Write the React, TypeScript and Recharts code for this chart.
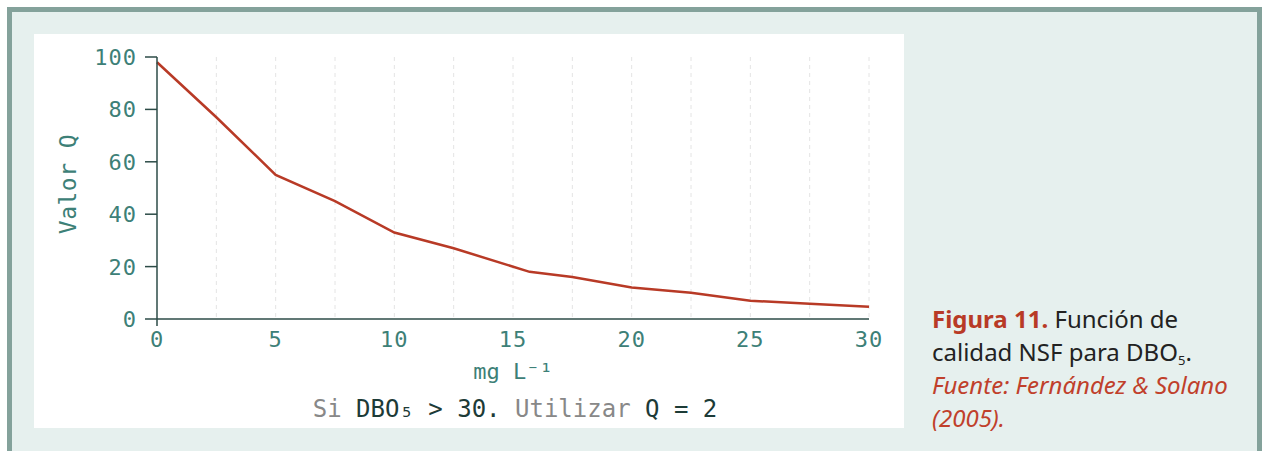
import React from 'react';
import { LineChart, Line, XAxis, YAxis, CartesianGrid, Label } from 'recharts';

const dbo = [0, 2.5, 5, 7.5, 10, 12.5, 15.7, 17.5, 20, 22.5, 25, 27.5, 30];
const valorQ = [98, 77, 55, 45, 33, 27, 18, 16, 12, 10, 7, 5.8, 4.7];
const xTicks = [0, 5, 10, 15, 20, 25, 30];
const yTicks = [0, 20, 40, 60, 80, 100];
const gridX = [2.5, 5, 7.5, 10, 12.5, 15, 17.5, 20, 22.5, 25, 27.5, 30];

const data = dbo.map((x, i) => ({ x, q: valorQ[i] }));

const MONO = '"DejaVu Sans Mono", monospace';
const TEAL = '#3d8077';
const DARK = '#2c4b47';
const RED = '#b83a26';

const XTick = (props: any) => {
  const { x, y, payload } = props;
  return (
    <g>
      {payload.value === 0 && <line x1={x} x2={x} y1={y} y2={y + 7} stroke={DARK} strokeWidth={1.5} />}
      <text x={x} y={y + 28} textAnchor="middle" fill={TEAL} fontFamily={MONO} fontSize={22} letterSpacing={1}>
        {payload.value}
      </text>
    </g>
  );
};

const YTick = (props: any) => {
  const { x, y, payload } = props;
  return (
    <text x={x} y={y + 8} textAnchor="end" fill={TEAL} fontFamily={MONO} fontSize={22} letterSpacing={1}>
      {payload.value}
    </text>
  );
};

const App: React.FC = () => {
  return (
    <div style={{ position: 'absolute', left: 0, top: 0, width: 1262, height: 451, overflow: 'hidden', background: '#fff' }}>
      <div
        style={{
          position: 'absolute', left: 7, top: 7, width: 1255, height: 470,
          boxSizing: 'border-box', border: '5px solid #84a29b', background: '#e6f0ee',
        }}
      />
      <div style={{ position: 'absolute', left: 34, top: 34, width: 870, height: 394, background: '#fff' }}>
        <LineChart width={870} height={394} data={data} margin={{ top: 23, right: 35, left: 0, bottom: 0 }}>
          <CartesianGrid horizontal={false} verticalValues={gridX} stroke="#e4e4e4" strokeDasharray="4 4" />
          <XAxis
            dataKey="x"
            type="number"
            domain={[0, 30]}
            ticks={xTicks}
            height={109}
            tickLine={false}
            tickSize={0}
            tickMargin={0}
            tick={<XTick />}
            axisLine={{ stroke: DARK, strokeWidth: 1.5 }}
          >
            <Label
              content={(p: any) => (
                <text
                  x={p.viewBox.x + p.viewBox.width / 2}
                  y={p.viewBox.y + 60}
                  textAnchor="middle"
                  fill={TEAL}
                  fontFamily={MONO}
                  fontSize={22}
                >
                  mg L⁻¹
                </text>
              )}
            />
          </XAxis>
          <YAxis
            type="number"
            domain={[0, 100]}
            ticks={yTicks}
            width={123}
            tickSize={12}
            tickMargin={8}
            tick={<YTick />}
            tickLine={{ stroke: DARK, strokeWidth: 1.5 }}
            axisLine={{ stroke: DARK, strokeWidth: 1.5 }}
          >
            <Label
              content={(p: any) => {
                const cx = 34;
                const cy = p.viewBox.y + p.viewBox.height / 2 - 4;
                return (
                  <text
                    x={cx}
                    y={cy}
                    transform={`rotate(-90 ${cx} ${cy})`}
                    textAnchor="middle"
                    dominantBaseline="central"
                    fill={TEAL}
                    fontFamily={MONO}
                    fontSize={23}
                    letterSpacing={0.5}
                  >
                    Valor Q
                  </text>
                );
              }}
            />
          </YAxis>
          <Line type="linear" dataKey="q" stroke={RED} strokeWidth={2.5} dot={false} isAnimationActive={false} />
        </LineChart>
        <div
          style={{
            position: 'absolute', left: 0, width: 962, top: 362, textAlign: 'center',
            fontFamily: MONO, fontSize: 24, lineHeight: '26px', whiteSpace: 'pre', color: '#888',
          }}
        >
          <span>Si </span>
          <span style={{ color: '#1d3b37' }}>DBO₅ &gt; 30.</span>
          <span> Utilizar </span>
          <span style={{ color: '#1d3b37' }}>Q = 2</span>
        </div>
      </div>
      <div
        style={{
          position: 'absolute', left: 932, top: 302, fontFamily: '"Noto Sans", sans-serif',
          fontSize: 24, lineHeight: '33px', color: '#222', whiteSpace: 'nowrap',
        }}
      >
        <span style={{ color: RED, fontWeight: 700 }}>Figura 11.</span> Función de
        <br />
        calidad NSF para DBO<span style={{ fontSize: 13, lineHeight: 0, verticalAlign: -4 }}>5</span>.
        <br />
        <span style={{ color: '#c0402b', fontStyle: 'italic' }}>
          Fuente: Fernández &amp; Solano
          <br />
          (2005).
        </span>
      </div>
    </div>
  );
};

export default App;
